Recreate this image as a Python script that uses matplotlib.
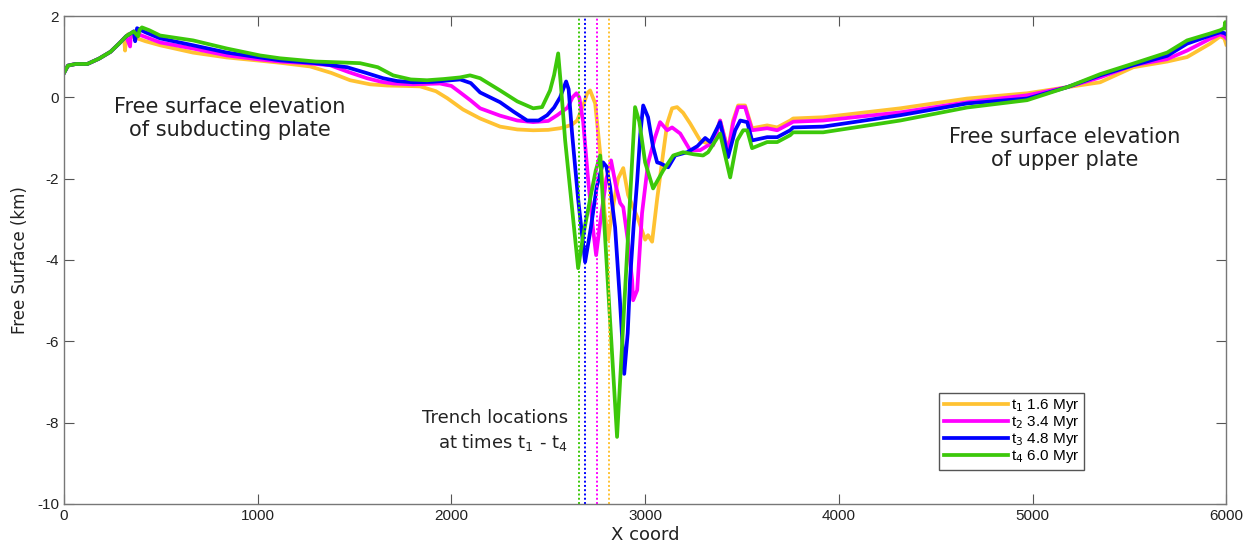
import matplotlib
matplotlib.use("Agg")
import matplotlib.pyplot as plt

plt.rcParams["axes.unicode_minus"] = False

# ---- data ----
t1_x = [0, 20, 60, 120, 180, 240, 290, 310, 315, 320, 330, 360, 420, 496, 666, 841, 1012, 1115, 1270, 1380,
        1477, 1580, 1668, 1760, 1838, 1920, 1978, 2060, 2148, 2251, 2340, 2422, 2500, 2561, 2620, 2649, 2680,
        2701, 2716, 2742, 2768, 2790, 2809, 2830, 2860, 2887, 2912, 2938, 2964, 3000, 3015, 3036, 3062, 3093,
        3114, 3139, 3165, 3196, 3232, 3284, 3320, 3351, 3387, 3428, 3454, 3480, 3516, 3552, 3630, 3682, 3749,
        3764, 3919, 4317, 4662, 4972, 5179, 5349, 5520, 5695, 5798, 5917, 5969, 5990, 6000]
t1_y = [0.6, 0.78, 0.82, 0.82, 0.95, 1.12, 1.35, 1.45, 1.15, 1.45, 1.55, 1.48, 1.38, 1.28, 1.1, 0.98, 0.9, 0.85,
        0.76, 0.6, 0.42, 0.32, 0.29, 0.28, 0.27, 0.15, -0.02, -0.3, -0.52, -0.72, -0.79, -0.81, -0.8, -0.76,
        -0.68, -0.57, -0.2, 0.1, 0.17, -0.15, -1.38, -2.8, -3.5, -2.8, -2.0, -1.74, -2.4, -2.7, -3.0, -3.5,
        -3.39, -3.55, -2.5, -1.38, -0.64, -0.27, -0.24, -0.38, -0.64, -1.06, -1.13, -1.1, -0.57, -1.3, -0.57,
        -0.2, -0.2, -0.76, -0.69, -0.74, -0.57, -0.52, -0.49, -0.27, -0.03, 0.1, 0.25, 0.37, 0.74, 0.88, 0.99,
        1.32, 1.5, 1.45, 1.3]

t2_x = [0, 20, 60, 120, 180, 240, 290, 320, 341, 345, 361, 400, 496, 666, 841, 1012, 1115, 1250, 1373, 1470,
        1564, 1640, 1699, 1800, 1941, 2000, 2045, 2100, 2148, 2251, 2340, 2422, 2500, 2546, 2600, 2625, 2645,
        2660, 2680, 2706, 2730, 2747, 2770, 2800, 2824, 2850, 2871, 2887, 2910, 2933, 2938, 2959, 2984, 3015,
        3050, 3077, 3114, 3139, 3181, 3232, 3284, 3325, 3351, 3387, 3428, 3454, 3480, 3516, 3552, 3630, 3682,
        3749, 3764, 3919, 4317, 4662, 4972, 5179, 5349, 5520, 5695, 5798, 5917, 5969, 5990, 6000]
t2_y = [0.6, 0.78, 0.82, 0.82, 0.95, 1.12, 1.35, 1.5, 1.25, 1.55, 1.62, 1.52, 1.35, 1.2, 1.03, 0.93, 0.88, 0.84,
        0.79, 0.62, 0.47, 0.38, 0.34, 0.32, 0.34, 0.28, 0.12, -0.08, -0.27, -0.45, -0.57, -0.61, -0.58, -0.44,
        -0.25, 0.0, 0.1, 0.0, -0.6, -2.04, -3.2, -3.88, -3.0, -2.0, -1.55, -2.2, -2.6, -2.7, -3.5, -4.5, -4.99,
        -4.74, -2.85, -1.62, -1.0, -0.61, -0.81, -0.74, -0.89, -1.3, -1.3, -1.18, -1.18, -0.57, -1.35, -0.64,
        -0.24, -0.24, -0.81, -0.76, -0.81, -0.64, -0.6, -0.57, -0.37, -0.12, 0.05, 0.25, 0.49, 0.79, 0.94, 1.15,
        1.44, 1.55, 1.5, 1.45]

t3_x = [0, 20, 60, 120, 180, 240, 290, 320, 360, 367, 377, 420, 496, 666, 841, 1012, 1115, 1300, 1461, 1560,
        1647, 1720, 1802, 1900, 2045, 2100, 2148, 2251, 2320, 2391, 2450, 2494, 2530, 2561, 2592, 2605, 2623,
        2654, 2690, 2720, 2750, 2783, 2800, 2819, 2845, 2870, 2892, 2910, 2922, 2940, 2959, 2975, 2990, 3015,
        3040, 3062, 3077, 3119, 3155, 3217, 3270, 3310, 3336, 3387, 3428, 3465, 3491, 3527, 3552, 3630, 3682,
        3749, 3764, 3919, 4317, 4662, 4972, 5179, 5349, 5520, 5695, 5798, 5917, 5969, 5990, 6000]
t3_y = [0.6, 0.78, 0.82, 0.82, 0.95, 1.12, 1.35, 1.5, 1.62, 1.38, 1.70, 1.6, 1.45, 1.28, 1.1, 0.98, 0.91, 0.84,
        0.74, 0.6, 0.47, 0.4, 0.37, 0.38, 0.44, 0.35, 0.12, -0.12, -0.35, -0.57, -0.57, -0.44, -0.25, 0.0, 0.39,
        0.2, -0.9, -2.5, -4.05, -3.2, -2.2, -1.6, -1.7, -2.2, -3.2, -5.0, -6.8, -5.8, -4.5, -3.2, -2.04, -0.9,
        -0.2, -0.49, -1.2, -1.6, -1.62, -1.72, -1.43, -1.35, -1.2, -1.0, -1.1, -0.61, -1.47, -0.81, -0.57, -0.61,
        -1.06, -0.98, -0.98, -0.81, -0.74, -0.72, -0.44, -0.15, -0.03, 0.25, 0.54, 0.79, 1.02, 1.32, 1.52, 1.6,
        1.58, 1.55]

t4_x = [0, 20, 60, 120, 180, 240, 290, 320, 360, 382, 390, 402, 440, 496, 666, 841, 1012, 1115, 1300, 1420,
        1528, 1620, 1699, 1790, 1874, 1960, 2045, 2096, 2148, 2251, 2340, 2422, 2468, 2509, 2530, 2551, 2565,
        2587, 2620, 2654, 2680, 2720, 2745, 2768, 2855, 2948, 2970, 3000, 3041, 3093, 3145, 3196, 3250, 3299,
        3325, 3387, 3439, 3475, 3506, 3527, 3552, 3630, 3682, 3749, 3764, 3919, 4317, 4662, 4972, 5179, 5349,
        5520, 5695, 5798, 5917, 5969, 5990, 5995, 6000]
t4_y = [0.6, 0.78, 0.82, 0.82, 0.95, 1.12, 1.35, 1.5, 1.62, 1.5, 1.66, 1.72, 1.65, 1.52, 1.4, 1.2, 1.03, 0.96,
        0.88, 0.86, 0.84, 0.74, 0.54, 0.44, 0.42, 0.45, 0.49, 0.54, 0.47, 0.17, -0.1, -0.27, -0.24, 0.17, 0.55,
        1.08, 0.3, -1.06, -2.6, -4.2, -3.4, -2.4, -1.8, -1.43, -8.35, -0.24, -0.6, -1.6, -2.24, -1.8, -1.43,
        -1.35, -1.4, -1.43, -1.35, -0.89, -1.97, -1.06, -0.81, -0.81, -1.25, -1.1, -1.1, -0.93, -0.86, -0.86,
        -0.57, -0.25, -0.07, 0.25, 0.57, 0.83, 1.1, 1.40, 1.57, 1.65, 1.7, 1.85, 1.7]

labels = [r"t$_1$ 1.6 Myr", r"t$_2$ 3.4 Myr", r"t$_3$ 4.8 Myr", r"t$_4$ 6.0 Myr"]
trench_x = [2815, 2750, 2690, 2659]
colors = ["#FFC232", "#FF00FF", "#0000FF", "#3CC80A"]

xticks = [0, 1000, 2000, 3000, 4000, 5000, 6000]
yticks = [-10, -8, -6, -4, -2, 0, 2]

# ---- plot ----
fig = plt.figure(figsize=(12.51, 5.48), dpi=100)
ax = fig.add_axes([0.0512, 0.0803, 0.9290, 0.8905])

xs = [t1_x, t2_x, t3_x, t4_x]
ys = [t1_y, t2_y, t3_y, t4_y]
for x, y, c, lab in zip(xs, ys, colors, labels):
    ax.plot(x, y, color=c, lw=2.7, label=lab, solid_joinstyle="round")
for tx, c in zip(trench_x, colors):
    ax.axvline(tx, color=c, lw=1.4, ls=(0, (1, 1.2)))

ax.set_xlim(0, 6000)
ax.set_ylim(-10, 2)
ax.set_xticks(xticks)
ax.set_yticks(yticks)
tickfont = "Liberation Sans"
for lab in ax.get_xticklabels() + ax.get_yticklabels():
    lab.set_fontfamily(tickfont)
ax.tick_params(direction="in", length=7, width=0.8, color="#555555", labelsize=11,
               top=True, right=True, labelcolor="#222222")
for s in ax.spines.values():
    s.set_color("#777777")
    s.set_linewidth(1.0)

ax.set_xlabel("X coord", fontsize=13, family="DejaVu Sans", color="#222222", labelpad=2)
ax.set_ylabel("Free Surface (km)", fontsize=12, family="DejaVu Sans", color="#222222", labelpad=6)

ax.text(857, -0.52, "Free surface elevation\nof subducting plate", ha="center", va="center",
        fontsize=15, color="#222222", linespacing=1.2)
ax.text(5168, -1.25, "Free surface elevation\nof upper plate", ha="center", va="center",
        fontsize=15, color="#222222", linespacing=1.2)
ax.text(2600, -8.2, "Trench locations\nat times t$_1$ - t$_4$", ha="right", va="center",
        fontsize=13, color="#222222", linespacing=1.3)

leg = ax.legend(loc="lower left", bbox_to_anchor=(0.753, 0.0697), handlelength=4.2,
                prop={"family": "Liberation Sans", "size": 11},
                handletextpad=0.2, borderpad=0.3, labelspacing=0.0, fancybox=False, framealpha=1,
                edgecolor="#555555", borderaxespad=0)
leg.get_frame().set_linewidth(1.0)

fig.savefig("out.png", dpi=100)
